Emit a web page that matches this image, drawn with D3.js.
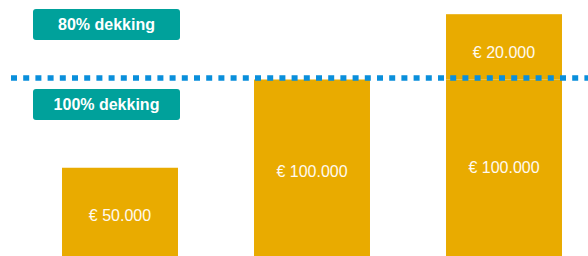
<!DOCTYPE html>
<html>
<head>
<meta charset="utf-8">
<script src="https://cdn.jsdelivr.net/npm/d3@7"></script>
<style>
  body { margin: 0; background: #fff; }
  svg { display: block; font-family: "Liberation Sans", Arial, sans-serif; }
</style>
</head>
<body>
<div id="chart"></div>
<script>
// bar heights in drawing units (diagram is not to scale)
const categories = ["a", "b", "c"];
const baseValues = [50, 100, 100];
const extraValues = [0, 0, 37];
const baseLabels = ["€ 50.000", "€ 100.000", "€ 100.000"];
const extraLabels = ["", "", "€ 20.000"];
const thresholdValue = 100.8;
const boxLabels = ["80% dekking", "100% dekking"];

const width = 588;
const height = 256;

const svg = d3.select("#chart")
  .append("svg")
  .attr("width", width)
  .attr("height", height);

const x = d3.scaleBand()
  .domain(categories)
  .range([24, 600])
  .paddingInner(0.396)
  .paddingOuter(0.198);

const y = d3.scaleLinear()
  .domain([0, 100])
  .range([height, 79.5]);

const data = categories.map((c, i) => ({
  cat: c,
  base: baseValues[i],
  extra: extraValues[i],
  baseLabel: baseLabels[i],
  extraLabel: extraLabels[i]
}));

const gold = "#e9ab00";

// base segments
svg.selectAll(".bar-base")
  .data(data)
  .join("rect")
  .attr("class", "bar-base")
  .attr("x", d => x(d.cat))
  .attr("y", d => y(d.base))
  .attr("width", x.bandwidth())
  .attr("height", d => y(0) - y(d.base))
  .attr("fill", gold);

// extra segments on top
svg.selectAll(".bar-extra")
  .data(data.filter(d => d.extra > 0))
  .join("rect")
  .attr("class", "bar-extra")
  .attr("x", d => x(d.cat))
  .attr("y", d => y(d.base + d.extra))
  .attr("width", x.bandwidth())
  .attr("height", d => y(d.base) - y(d.base + d.extra))
  .attr("fill", gold);

// labels sit a bit below the middle of their segment
svg.selectAll(".lbl-base")
  .data(data)
  .join("text")
  .attr("class", "lbl-base")
  .attr("x", d => x(d.cat) + x.bandwidth() / 2)
  .attr("y", d => (y(0) + y(d.base)) / 2 + (d.extra > 0 ? 1.5 : 4.7))
  .attr("text-anchor", "middle")
  .attr("dominant-baseline", "middle")
  .attr("fill", "#fffaf0")
  .attr("font-size", 16)
  .text(d => d.baseLabel);

svg.selectAll(".lbl-extra")
  .data(data.filter(d => d.extra > 0))
  .join("text")
  .attr("class", "lbl-extra")
  .attr("x", d => x(d.cat) + x.bandwidth() / 2)
  .attr("y", d => (y(d.base) + y(d.base + d.extra)) / 2 + 7)
  .attr("text-anchor", "middle")
  .attr("dominant-baseline", "middle")
  .attr("fill", "#fffaf0")
  .attr("font-size", 16)
  .text(d => d.extraLabel);

// dotted threshold line
svg.append("line")
  .attr("x1", 11)
  .attr("x2", width)
  .attr("y1", y(thresholdValue))
  .attr("y2", y(thresholdValue))
  .attr("stroke", "#0a8fdb")
  .attr("stroke-width", 5.5)
  .attr("stroke-dasharray", "6 6.2");

// teal label boxes
const boxTops = [9, 89];
const boxes = svg.selectAll(".box")
  .data(boxLabels)
  .join("g")
  .attr("class", "box")
  .attr("transform", (d, i) => `translate(33,${boxTops[i]})`);

boxes.append("rect")
  .attr("width", 147)
  .attr("height", 31)
  .attr("rx", 3)
  .attr("fill", "#00a19b");

boxes.append("text")
  .attr("x", 73.5)
  .attr("y", 17)
  .attr("text-anchor", "middle")
  .attr("dominant-baseline", "middle")
  .attr("fill", "#fff")
  .attr("font-size", 16)
  .attr("font-weight", "bold")
  .text(d => d);
</script>
</body>
</html>
